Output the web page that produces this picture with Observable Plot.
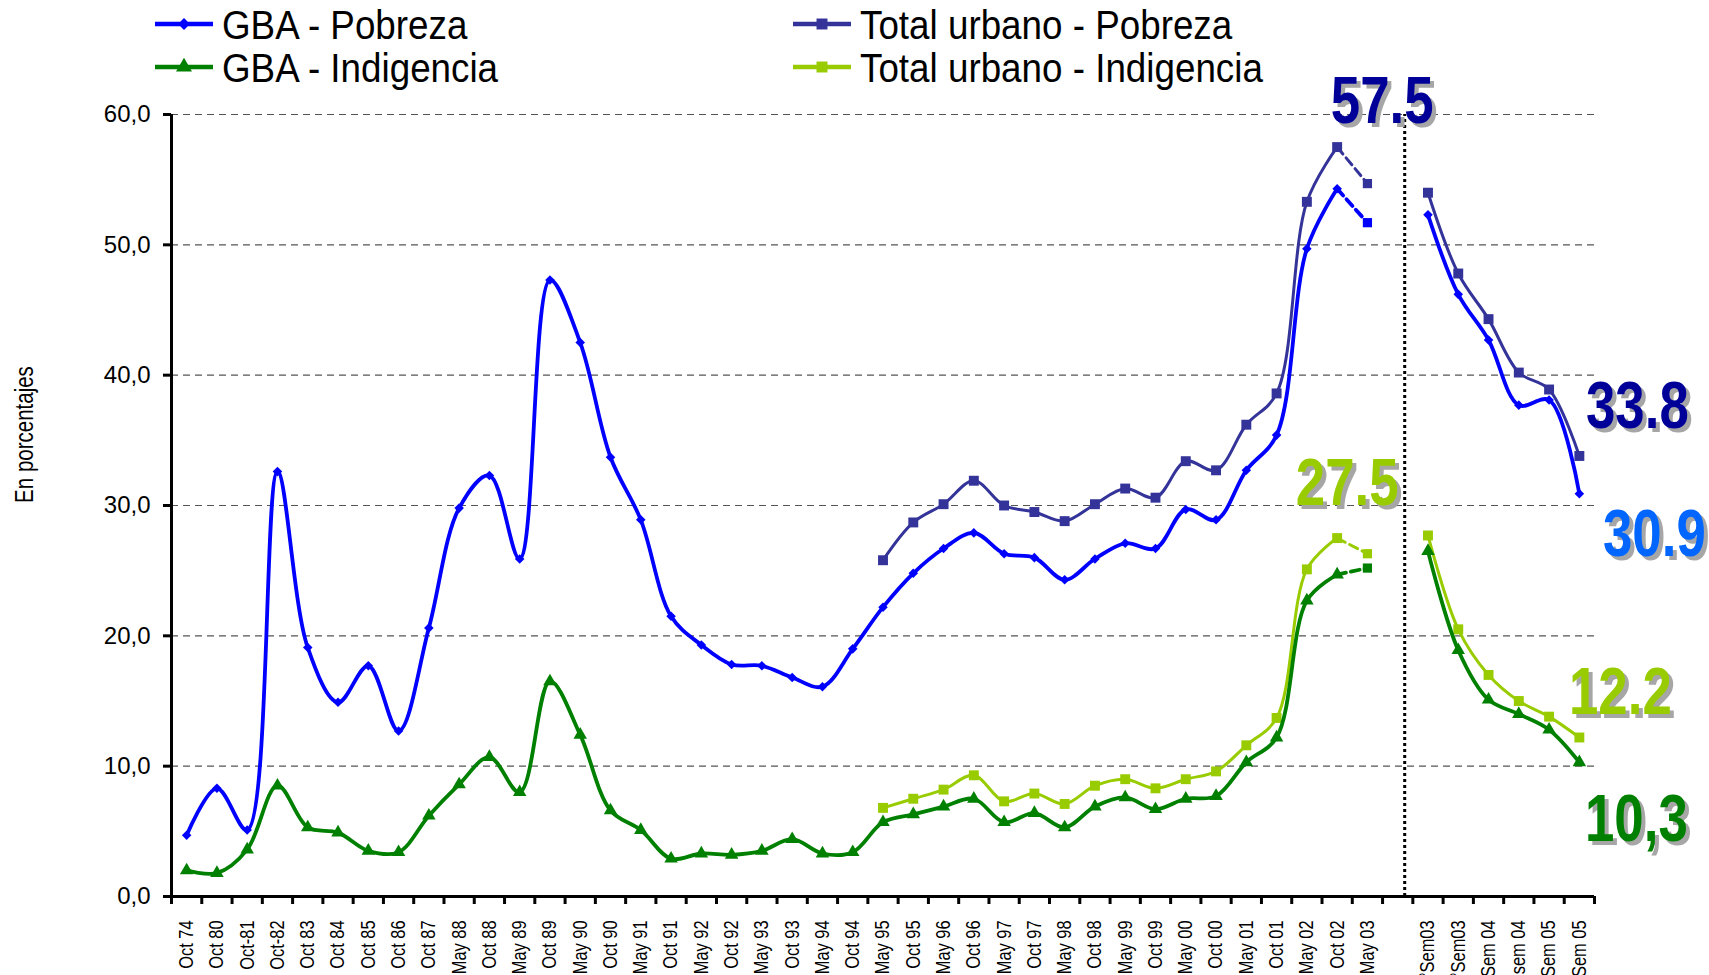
<!DOCTYPE html>
<html>
<head>
<meta charset="utf-8">
<script src="https://cdn.jsdelivr.net/npm/d3@7"></script>
<script src="https://cdn.jsdelivr.net/npm/@observablehq/plot@0.6"></script>
<style>
  html, body { margin: 0; padding: 0; background: #fff; width: 1709px; height: 975px; overflow: hidden; }
  #legend { position: relative; height: 72px; z-index: 2; }
  #legend svg { position: absolute; left: 0; top: 0; overflow: visible; }
  #chart { position: relative; z-index: 1; }
</style>
</head>
<body>
<div id="legend"></div>
<div id="chart"></div>
<script>
// ---------- data ----------
const categories = ["Oct 74", "Oct 80", "Oct-81", "Oct-82", "Oct 83", "Oct 84", "Oct 85", "Oct 86", "Oct 87",
  "May 88", "Oct 88", "May 89", "Oct 89", "May 90", "Oct 90", "May 91", "Oct 91", "May 92", "Oct 92",
  "May 93", "Oct 93", "May 94", "Oct 94", "May 95", "Oct 95", "May 96", "Oct 96", "May 97", "Oct 97",
  "May 98", "Oct 98", "May 99", "Oct 99", "May 00", "Oct 00", "May 01", "Oct 01", "May 02", "Oct 02",
  "May 03", "", "1°Sem03", "2°Sem03", "1°Sem 04", "2°sem 04", "1°Sem 05", "2°Sem 05"];

const gbaPobreza = [4.7, 8.3, 5.1, 32.6, 19.1, 14.9, 17.7, 12.7, 20.6, 29.8, 32.3, 25.9, 47.3, 42.5, 33.7,
  28.9, 21.5, 19.3, 17.8, 17.7, 16.8, 16.1, 19.0, 22.2, 24.8, 26.7, 27.9, 26.3, 26.0, 24.3, 25.9, 27.1,
  26.7, 29.7, 28.9, 32.7, 35.4, 49.7, 54.3, 51.7, null, 52.3, 46.2, 42.7, 37.7, 38.1, 30.9];

const gbaIndigencia = [2.0, 1.8, 3.6, 8.5, 5.3, 4.9, 3.5, 3.4, 6.2, 8.6, 10.7, 8.0, 16.5, 12.4, 6.6,
  5.1, 2.9, 3.3, 3.2, 3.5, 4.4, 3.3, 3.4, 5.7, 6.3, 6.9, 7.5, 5.7, 6.4, 5.3, 6.9, 7.6, 6.7, 7.5, 7.7,
  10.3, 12.2, 22.7, 24.7, 25.2, null, 26.5, 18.9, 15.1, 14.0, 12.8, 10.3];

const totalPobreza = [null, null, null, null, null, null, null, null, null, null, null, null, null, null, null,
  null, null, null, null, null, null, null, null, 25.8, 28.7, 30.1, 31.9, 30.0, 29.5, 28.8, 30.1, 31.3,
  30.6, 33.4, 32.7, 36.2, 38.6, 53.3, 57.5, 54.7, null, 54.0, 47.8, 44.3, 40.2, 38.9, 33.8];

const totalIndigencia = [null, null, null, null, null, null, null, null, null, null, null, null, null, null, null,
  null, null, null, null, null, null, null, null, 6.8, 7.5, 8.2, 9.3, 7.3, 7.9, 7.1, 8.5, 9.0,
  8.3, 9.0, 9.6, 11.6, 13.7, 25.1, 27.5, 26.3, null, 27.7, 20.5, 17.0, 15.0, 13.8, 12.2];

const seriesNames = ["GBA - Pobreza", "GBA - Indigencia", "Total urbano - Pobreza", "Total urbano - Indigencia"];
const yTicks = [0, 10, 20, 30, 40, 50, 60];
const annotationLabels = ["57.5", "27.5", "33.8", "30.9", "12.2", "10,3"];
const yTitle = "En porcentajes";

// ---------- styling ----------
const estIndex = categories.indexOf("May 03");     // estimated point, dashed link
const lastCensus = categories.indexOf("Oct 02");
const gapIndex = categories.indexOf("");

const series = [
  {name: seriesNames[2], values: totalPobreza,    color: "#333399", symbol: "square",   r: 5.6, width: 3},
  {name: seriesNames[3], values: totalIndigencia, color: "#99CC00", symbol: "square",   r: 5.6, width: 3},
  {name: seriesNames[0], values: gbaPobreza,      color: "#0000FF", symbol: "diamond2", r: 4.3, width: 3.8},
  {name: seriesNames[1], values: gbaIndigencia,   color: "#008000", symbol: "triangle", r: 5,   width: 3.8}
];
const byName = Object.fromEntries(series.map(s => [s.name, s]));

const font = "'Liberation Sans', Arial, sans-serif";

const marks = [];

// grid
marks.push(Plot.ruleY(yTicks.filter(d => d > 0), {stroke: "#555", strokeWidth: 1.2, strokeDasharray: "7,5"}));

// series
for (const s of series) {
  const rows = categories.map((c, i) => ({i, v: s.values[i]}));
  marks.push(Plot.line(rows, {
    x: "i", y: d => (d.i === estIndex ? null : d.v),
    curve: "catmull-rom", stroke: s.color, strokeWidth: s.width, strokeLinejoin: "round"
  }));
  marks.push(Plot.line(rows.filter(d => d.i === lastCensus || d.i === estIndex), {
    x: "i", y: "v", stroke: s.color, strokeWidth: s.width, strokeDasharray: "9,5"
  }));
  marks.push(Plot.dot(rows.filter(d => d.v != null && d.i !== estIndex), {
    x: "i", y: "v", symbol: s.symbol, r: s.r, fill: s.color, stroke: "none"
  }));
  marks.push(Plot.dot(rows.filter(d => d.i === estIndex), {
    x: "i", y: "v", symbol: "square", r: 5.2, fill: s.color, stroke: "none"
  }));
}

// dotted separator
marks.push(Plot.ruleX([gapIndex], {x: d => d, y1: 0, y2: 60, dx: 7, stroke: "#000", strokeWidth: 3, strokeDasharray: "3,3"}));

// axis lines
marks.push(Plot.ruleY([0], {stroke: "#000", strokeWidth: 3}));
marks.push(Plot.ruleX([-0.5], {x: d => d, y1: 0, y2: 60, stroke: "#000", strokeWidth: 3}));

// y axis
marks.push(Plot.axisY(yTicks, {
  tickSize: 8, tickPadding: 13, strokeWidth: 3, fontSize: 24, fontFamily: font, fill: "#000",
  tickFormat: d => d.toFixed(1).replace(".", ","), label: null
}));

// x axis ticks at category boundaries
marks.push(Plot.axisX(d3.range(categories.length + 1).map(k => k - 0.5), {
  tickSize: 8, strokeWidth: 3, tickFormat: () => "", label: null
}));
// x axis labels at category centres
marks.push(Plot.axisX(d3.range(categories.length), {
  tickSize: 0, tickPadding: 24, tickRotate: -90, fontSize: 20, fontFamily: font, fill: "#000",
  tickFormat: i => categories[i], label: null
}));

// y title
marks.push(Plot.text([yTitle], {
  frameAnchor: "left", dx: -147, dy: -71, rotate: -90, fontSize: 25, fontFamily: font,
  fill: "#000", textAnchor: "middle", lineAnchor: "middle"
}));

// annotations (value call-outs)
const annotations = [
  {text: annotationLabels[0], s: seriesNames[2], i: lastCensus, dx: 45, dy: -24, color: "#000099"},
  {text: annotationLabels[1], s: seriesNames[3], i: lastCensus, dx: 10, dy: -33, color: "#99CC00"},
  {text: annotationLabels[2], s: seriesNames[2], i: categories.length - 1, dx: 58, dy: -28, color: "#000099"},
  {text: annotationLabels[3], s: seriesNames[0], i: categories.length - 1, dx: 75, dy: 62, color: "#0066FF"},
  {text: annotationLabels[4], s: seriesNames[3], i: categories.length - 1, dx: 41, dy: -23, color: "#99CC00"},
  {text: annotationLabels[5], s: seriesNames[1], i: categories.length - 1, dx: 57, dy: 79, color: "#008000"}
];
for (const a of annotations) {
  const opts = {x: d => d.i, y: d => byName[d.s].values[d.i], text: "text", fontSize: 66, fontWeight: "bold",
    fontFamily: font, textAnchor: "middle", lineAnchor: "bottom"};
  marks.push(Plot.text([a], {...opts, dx: a.dx + 4, dy: a.dy + 4, fill: "#a6a6a6"}));
  marks.push(Plot.text([a], {...opts, dx: a.dx, dy: a.dy, fill: a.color}));
}

const chart = Plot.plot({
  width: 1709, height: 903,
  marginLeft: 171, marginRight: 115, marginTop: 42, marginBottom: 79,
  style: {background: "transparent", overflow: "visible"},
  x: {type: "linear", domain: [-0.5, categories.length - 0.5], axis: null},
  y: {domain: [0, 60], axis: null},
  marks
});
document.getElementById("chart").appendChild(chart);

// condense (narrow-font look) selected texts along their own baseline direction
function condense(el, sx) {
  let tx = 0;
  const xa = el.getAttribute("x");
  if (xa !== null && isFinite(+xa)) { tx = +xa; el.removeAttribute("x"); }
  const t = el.getAttribute("transform") || "";
  el.setAttribute("transform", `${t} translate(${tx},0) scale(${sx},1)`);
}
const catSet = new Set(categories.filter(c => c));
const annSet = new Set(annotationLabels);
d3.select(chart).selectAll("text").each(function() {
  const s = this.textContent;
  if (annSet.has(s)) condense(this, 0.8);
  else if (catSet.has(s) || s === yTitle) condense(this, 0.82);
});

// ---------- legend ----------
const legendItems = [
  {s: byName[seriesNames[0]], x: 155, y: 24},
  {s: byName[seriesNames[1]], x: 155, y: 67},
  {s: byName[seriesNames[2]], x: 793, y: 24},
  {s: byName[seriesNames[3]], x: 793, y: 67}
];
const lsvg = d3.select("#legend").append("svg").attr("width", 1709).attr("height", 100);
for (const it of legendItems) {
  const g = lsvg.append("g").attr("transform", `translate(${it.x},${it.y})`);
  g.append("line").attr("x1", 0).attr("x2", 58).attr("y1", 0).attr("y2", 0)
    .attr("stroke", it.s.color).attr("stroke-width", 4.5);
  const sym = it.s.symbol === "diamond2" ? d3.symbolDiamond2 : it.s.symbol === "triangle" ? d3.symbolTriangle : d3.symbolSquare;
  const size = it.s.symbol === "diamond2" ? 90 : it.s.symbol === "triangle" ? 110 : 120;
  g.append("path").attr("d", d3.symbol(sym, size)()).attr("transform", "translate(29,0)").attr("fill", it.s.color);
  g.append("text").attr("transform", "translate(67,15) scale(0.92,1)").attr("font-family", font)
    .attr("font-size", 40).attr("fill", "#000").text(it.s.name);
}
</script>
</body>
</html>
